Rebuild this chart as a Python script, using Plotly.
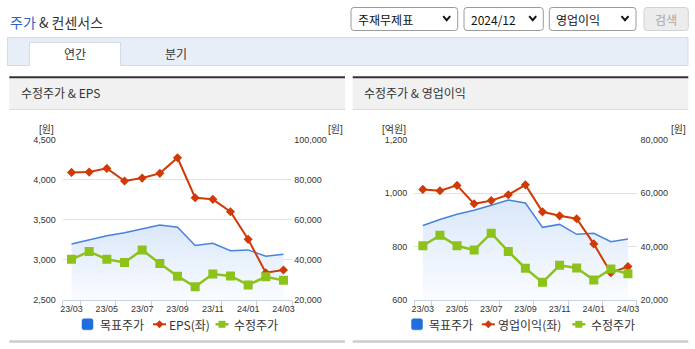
import plotly.graph_objects as go

W, H = 695, 349

# ---------------- data ----------------
months = ["23/03", "23/04", "23/05", "23/06", "23/07", "23/08", "23/09",
          "23/10", "23/11", "23/12", "24/01", "24/02", "24/03"]
target_price = [47900, 50150, 52100, 53600, 55500, 57400, 56300,
                47200, 48300, 44600, 45000, 41800, 42800]      # 목표주가
adj_price = [40300, 44200, 40300, 38700, 45000, 38200, 31900,
             26600, 33000, 32000, 27500, 31600, 29800]         # 수정주가
eps = [4092, 4096, 4142, 3984, 4021, 4080, 4275,
       3776, 3756, 3601, 3257, 2840, 2874]                     # EPS(좌)
op_profit = [1014, 1009, 1029, 960, 972, 994, 1031,
             930, 915, 904, 810, 702, 725]                     # 영업이익(좌)

left_ticks_eps = [2500, 3000, 3500, 4000, 4500]
left_ticks_op = [600, 800, 1000, 1200]

idx = list(range(len(months)))

# ---------------- styles ----------------
BLUE_LINE = "#4783dc"
BLUE_LEG = "#1f6edd"
RED = "#cf3a06"
GREEN = "#8cc21a"
AXIS = "#c5d2e3"
GRID = "#e2e2e2"
TXT = "#333333"
NUM_FONT = "Liberation Sans, Arial, sans-serif"
KR_FONT = "Noto Sans CJK KR, Noto Sans, sans-serif"


def px(x):
    return x / W


def py(y):
    return 1 - y / H


fig = go.Figure()


def add_chart(xa, y_main, y_left, y_top, left_vals, left_name):
    xname = "x" if xa == "xaxis" else "x" + xa[5:]
    fig.add_trace(go.Scatter(
        x=idx, y=target_price, xaxis=xname, yaxis=y_main, mode="lines",
        line=dict(color=BLUE_LINE, width=1.5), fill="tozeroy",
        fillgradient=dict(type="vertical", start=20000, stop=max(target_price),
                          colorscale=[[0, "rgba(250,252,255,1)"], [1, "rgba(218,231,250,1)"]]),
        showlegend=False, name="목표주가", hoverinfo="skip"))
    fig.add_trace(go.Scatter(
        x=idx, y=left_vals, xaxis=xname, yaxis=y_left, mode="lines+markers",
        line=dict(color=RED, width=2), marker=dict(symbol="diamond", size=7, color=RED),
        showlegend=False, name=left_name))
    fig.add_trace(go.Scatter(
        x=idx, y=adj_price, xaxis=xname, yaxis=y_top, mode="lines+markers",
        line=dict(color=GREEN, width=2.5), marker=dict(symbol="square", size=9, color=GREEN),
        showlegend=False, name="수정주가"))


add_chart("xaxis", "y", "y2", "y3", eps, "EPS(좌)")
add_chart("xaxis2", "y4", "y5", "y6", op_profit, "영업이익(좌)")

ydom = [py(300), py(139.7)]
xtick = dict(
    range=[-0.5, len(months) - 0.5], tickmode="array", tickvals=idx[::2],
    ticktext=months[::2], ticks="", showline=True, linecolor=AXIS, linewidth=1,
    showgrid=False, zeroline=False, fixedrange=True, automargin=False,
    tickfont=dict(family=NUM_FONT, size=9, color=TXT),
    minor=dict(tickmode="array",
               tickvals=[-0.5] + [i + 0.5 for i in idx[::2]],
               ticks="outside", ticklen=5, tickcolor=AXIS, tickwidth=1, showgrid=False),
)
yfont = dict(family=NUM_FONT, size=9, color=TXT)
ycommon = dict(zeroline=False, ticks="", tickformat=",", tickfont=yfont, automargin=False,
               fixedrange=True)

fig.update_layout(
    width=W, height=H, margin=dict(l=0, r=0, t=0, b=0, pad=0, autoexpand=False),
    paper_bgcolor="white", plot_bgcolor="rgba(0,0,0,0)", showlegend=False,
    xaxis=dict(domain=[px(62.7), px(292.3)], anchor="y", **xtick),
    yaxis=dict(domain=ydom, anchor="x", side="right", range=[20000, 100000], dtick=20000,
               showgrid=True, gridcolor=GRID, ticklabelstandoff=1, **ycommon),
    yaxis2=dict(overlaying="y", anchor="x", side="left",
                range=[left_ticks_eps[0], left_ticks_eps[-1]], tickmode="array",
                tickvals=left_ticks_eps, showgrid=False, ticklabelstandoff=6, **ycommon),
    yaxis3=dict(overlaying="y", anchor="x", range=[20000, 100000], visible=False,
                automargin=False),
    xaxis2=dict(domain=[px(414.3), px(636.5)], anchor="y4", **xtick),
    yaxis4=dict(domain=ydom, anchor="x2", side="right", range=[20000, 80000], dtick=20000,
                showgrid=True, gridcolor=GRID, ticklabelstandoff=3, **ycommon),
    yaxis5=dict(overlaying="y4", anchor="x2", side="left",
                range=[left_ticks_op[0], left_ticks_op[-1]], tickmode="array",
                tickvals=left_ticks_op, showgrid=False, ticklabelstandoff=6, **ycommon),
    yaxis6=dict(overlaying="y4", anchor="x2", range=[20000, 80000], visible=False,
                automargin=False),
)

shapes = []
annots = []


def rect(x0, y0, x1, y1, fill, line=None, lw=1, layer="below"):
    shapes.append(dict(type="rect", xref="paper", yref="paper",
                       x0=px(x0), x1=px(x1), y0=py(y1), y1=py(y0),
                       fillcolor=fill, line=dict(color=line or fill, width=lw if line else 0),
                       layer=layer))


def rrect(x0, y0, x1, y1, r, fill, line, lw=1):
    pts = [("M", x0 + r, y0), ("L", x1 - r, y0), ("Q", x1, y0, x1, y0 + r),
           ("L", x1, y1 - r), ("Q", x1, y1, x1 - r, y1), ("L", x0 + r, y1),
           ("Q", x0, y1, x0, y1 - r), ("L", x0, y0 + r), ("Q", x0, y0, x0 + r, y0)]
    path = ""
    for p in pts:
        c = p[0]
        coords = p[1:]
        s = []
        for i in range(0, len(coords), 2):
            s.append(f"{px(coords[i]):.5f},{py(coords[i+1]):.5f}")
        path += c + " " + " ".join(s) + " "
    path += "Z"
    shapes.append(dict(type="path", xref="paper", yref="paper", path=path,
                       fillcolor=fill, line=dict(color=line, width=lw), layer="above"))


def poly(points, fill=None, line=None, lw=1, closed=True):
    path = "M " + " L ".join(f"{px(x):.5f},{py(y):.5f}" for x, y in points)
    if closed:
        path += " Z"
    d = dict(type="path", xref="paper", yref="paper", path=path, layer="above",
             line=dict(color=line or "rgba(0,0,0,0)", width=lw if line else 0))
    if fill:
        d["fillcolor"] = fill
    shapes.append(d)


def text(x, y, s, size=12, color=TXT, anchor="left", family=KR_FONT):
    annots.append(dict(xref="paper", yref="paper", x=px(x), y=py(y), text=s,
                       showarrow=False, xanchor=anchor, yanchor="middle",
                       font=dict(family=family, size=size, color=color),
                       borderpad=0))


# header
text(8.5, 22.5, "<span style='color:#2a62c9'>주가</span> & 컨센서스", size=14)

# dropdowns
for (x0, x1, label, cx) in [(351, 457.7, "주재무제표", 446.7),
                             (464, 543.3, "2024/12", 532.7),
                             (549.3, 636, "영업이익", 625)]:
    rrect(x0, 7.5, x1, 30.5, 3, "white", "#9a9a9a", 1)
    text(x0 + 6, 19.5, label, size=12, color="#111")
    poly([(cx - 3.5, 16.2), (cx, 20.2), (cx + 3.5, 16.2)], line="#111", lw=2, closed=False)
rrect(644, 7.5, 688.3, 30.5, 3, "#ececec", "#d2d2d2", 1)
text(666.2, 19.5, "검색", size=12, color="#a8a8a8", anchor="center")

# tab bar
rect(7.5, 37.5, 688, 65.5, "#e8eef8", "#d3dbe9", 1)
rect(29.5, 42.5, 120.5, 65.5, "#ffffff", "#d3dbe9", 1)
rect(30, 64.5, 120, 66, "#ffffff")
text(74.5, 53.8, "연간", size=12, anchor="center")
text(176, 53.8, "분기", size=12, anchor="center")

# panels
for (x0, x1, title) in [(9.3, 345, "수정주가 & EPS"), (352.7, 688.3, "수정주가 & 영업이익")]:
    rect(x0, 78, x1, 109.5, "#f1f1f1")
    rect(x0, 109, x1, 110, "#dddddd")
    rect(x0, 76.3, x1, 78.2, "#333333")
    rect(x0, 340.3, x1, 342.8, "#cccccc")
    text(x0 + 10.5, 92.5, title, size=12)

# axis unit labels
UNIT_FONT = "Liberation Sans, Noto Sans CJK KR, sans-serif"
text(46.5, 129.5, "[원]", size=10, anchor="center", family=UNIT_FONT)
text(335, 129.5, "[원]", size=10, anchor="center", family=UNIT_FONT)
text(394, 129.5, "[억원]", size=10, anchor="center", family=UNIT_FONT)
text(678.5, 129.5, "[원]", size=10, anchor="center", family=UNIT_FONT)

# legends (manual, compact like the reference)
LY = 324.3
for (bx, rx, gx, t1, t2, t3, lname) in [
        (87.5, 159.5, 222, 99, 168, 233, "EPS(좌)"),
        (417, 488.3, 578.8, 428.3, 496.7, 590, "영업이익(좌)")]:
    rrect(bx - 5.5, LY - 5.5, bx + 5.5, LY + 5.5, 2, BLUE_LEG, BLUE_LEG, 0.5)
    text(t1, LY, "목표주가", size=12)
    poly([(rx - 6.5, LY), (rx + 6.5, LY)], line=RED, lw=2, closed=False)
    poly([(rx, LY - 4), (rx + 4, LY), (rx, LY + 4), (rx - 4, LY)], fill=RED)
    text(t2, LY, lname, size=12)
    poly([(gx - 6.5, LY), (gx + 6.5, LY)], line=GREEN, lw=2.5, closed=False)
    poly([(gx - 3.5, LY - 3.5), (gx + 3.5, LY - 3.5), (gx + 3.5, LY + 3.5), (gx - 3.5, LY + 3.5)], fill=GREEN)
    text(t3, LY, "수정주가", size=12)

fig.update_layout(shapes=shapes, annotations=annots)
fig.write_html("out.html")
